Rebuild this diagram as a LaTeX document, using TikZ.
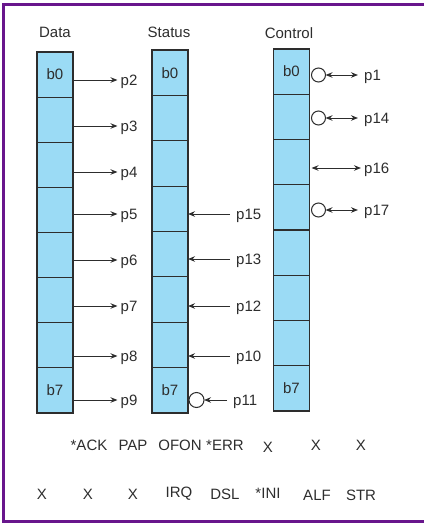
\documentclass[tikz,border=0pt]{standalone}
\usepackage{fontspec}
\setmainfont{Liberation Sans}
\usetikzlibrary{arrows.meta,calc}
\definecolor{framepurple}{RGB}{104,22,140}
\definecolor{cellfill}{RGB}{155,219,245}
\definecolor{ink}{RGB}{45,45,45}
\tikzset{
  cell/.style={draw=ink, fill=cellfill, line width=1.1pt, minimum width=36pt,
    minimum height=#1, inner sep=0pt, outer sep=0pt},
  lbl/.style={anchor=west, inner sep=0pt, text=ink, yshift=-2pt},
  txt/.style={inner sep=0pt, text=ink},
  tip/.tip={Stealth[length=7pt,width=5.5pt]},
  wire/.style={draw=ink, line width=1pt, -tip},
  bidir/.style={draw=ink, line width=1pt, tip-tip},
  bubble/.style={circle, draw=ink, fill=white, line width=1pt, minimum size=15pt, inner sep=0pt, outer sep=0pt}
}
\begin{document}
\begin{tikzpicture}[x=1pt, y=-1pt, font=\fontsize{15}{17}\selectfont]
\useasboundingbox (0,0) rectangle (424,523);
% outer frame (open on the right)
\draw[framepurple, line width=2.7pt, line join=miter] (424,4.6) -- (3.7,4.6) -- (3.7,521.5) -- (424,521.5);

% column titles
\node[txt] (tdata) at (55,32) {Data};
\node[txt] (tstat) at (169,32) {Status};
\node[txt] (tctrl) at (289,33) {Control};

% register columns
\foreach \k/\t in {0/b0,1/,2/,3/,4/,5/,6/,7/b7} {
  \node[cell=45.125pt, text=ink] (d\k) at (55,{52+45.125*(\k+0.5)}) {\t};
  \node[cell=45.375pt, text=ink] (s\k) at (170,{50+45.375*(\k+0.5)}) {\t};
  \node[cell=45.25pt, text=ink] (c\k) at (291.5,{49+45.25*(\k+0.5)}) {\t};
}

% data outputs
\foreach \n/\y in {2/80,3/126,4/172,5/214,6/260,7/306,8/356,9/400} {
  \node[lbl] (p\n) at (120.5,\y) {p\n};
  \draw[wire, shorten >=3pt] (d0.east |- 0,\y) -- (p\n.west |- 0,\y);
}

% status inputs
\foreach \n/\y in {15/214,13/259,12/306,10/356} {
  \node[lbl] (p\n) at (236,\y) {p\n};
  \draw[wire, shorten <=6pt] (p\n.west |- 0,\y) -- (s0.east |- 0,\y);
}
\node[lbl] (p11) at (233,400) {p11};
\node[bubble] (o11) at (196.5,400) {};
\draw[wire, shorten <=6pt] (p11.west |- o11.east) -- (o11.east);

% control lines
\foreach \n/\y in {1/75,14/118,17/210} {
  \node[lbl] (p\n) at (364,\y) {p\n};
  \node[bubble, minimum size=14pt] (o\n) at (318.5,\y) {};
  \draw[bidir, shorten >=6pt] (o\n.east) -- (p\n.west |- o\n.east);
}
\node[lbl] (p16) at (364,168) {p16};
\coordinate (k16) at ($(c0.east |- 0,168)+(2,0)$);
\draw[bidir, shorten >=3pt] (k16) -- (p16.west |- k16);

% bit names
\foreach \name/\x/\lab/\y in {a1/89/{*ACK}/445, a2/133/PAP/445, a3/180/OFON/445, a4/225/{*ERR}/445,
  a5/268/X/447, a6/316/X/445, a7/361/X/445,
  b1/42/X/494, b2/88/X/494, b3/133/X/494, b4/179/IRQ/494, b5/225/DSL/494,
  b6/268/{*INI}/493, b7/317/ALF/495, b8/361/STR/495} {
  \node[txt] (\name) at (\x,\y) {\lab};
}
\end{tikzpicture}
\end{document}
